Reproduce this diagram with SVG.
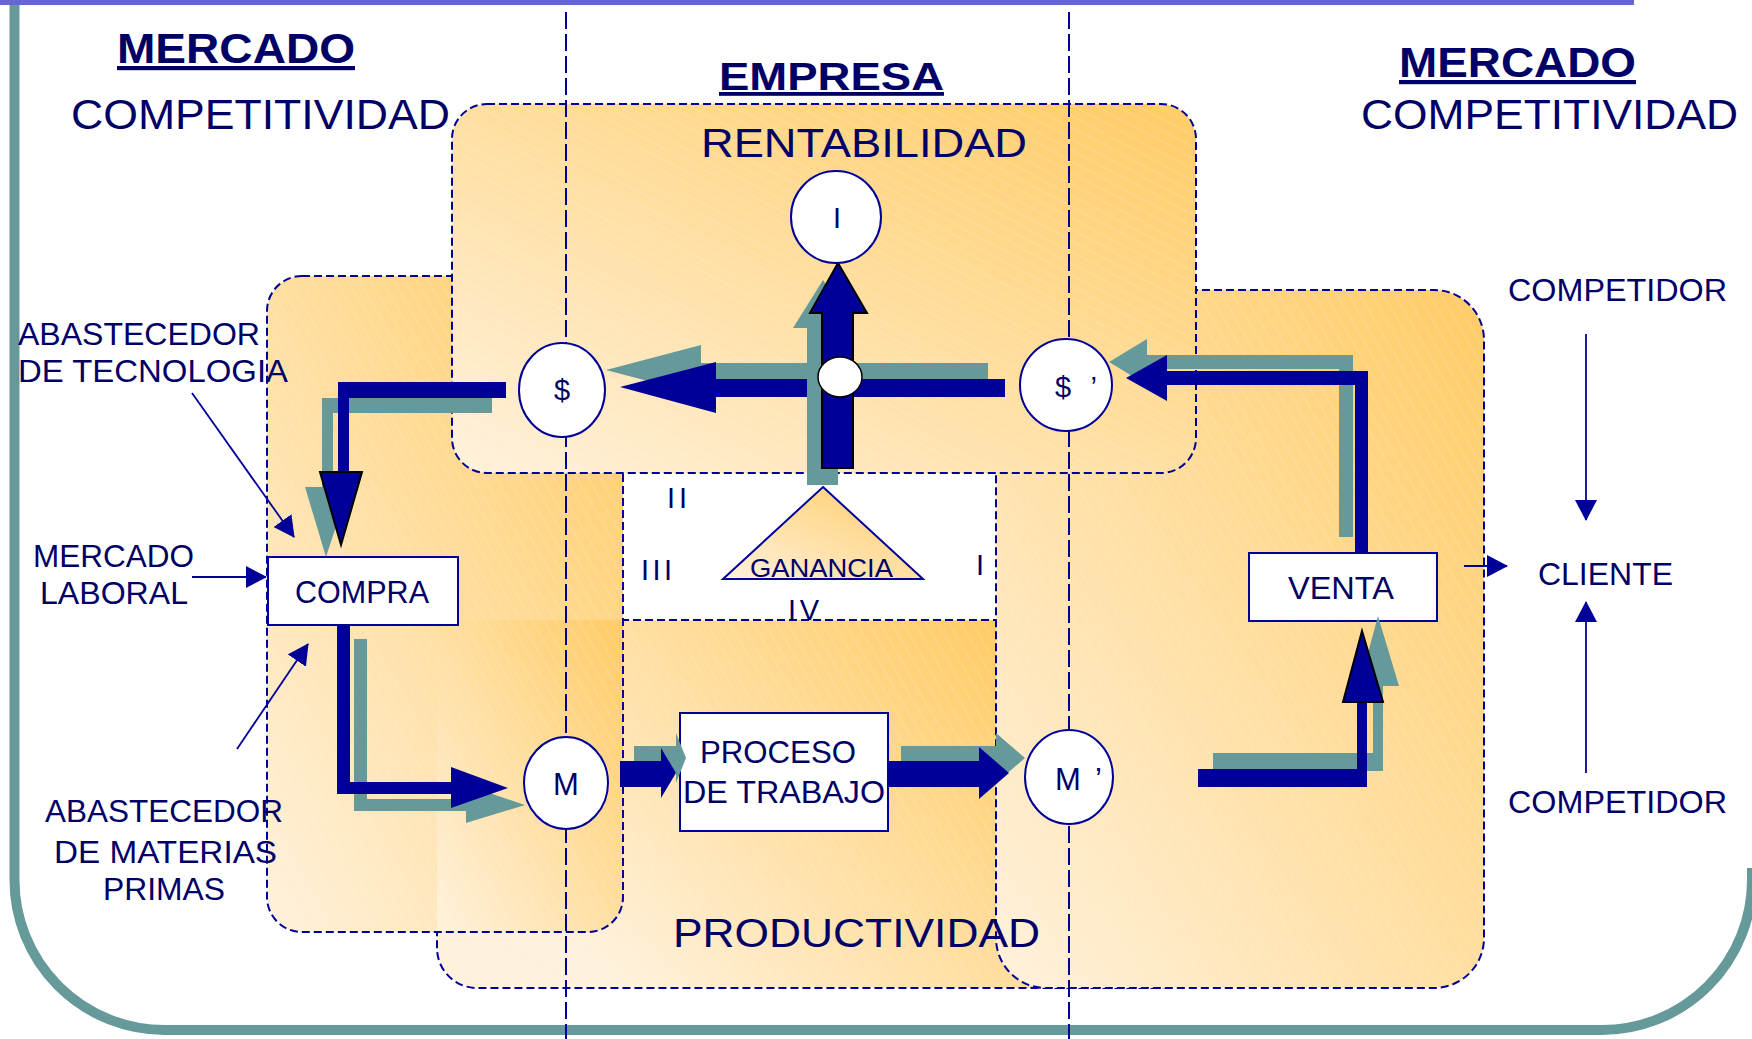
<svg xmlns="http://www.w3.org/2000/svg" width="1752" height="1039" viewBox="0 0 1752 1039">
<defs>
<style>
.txt{font-family:"Liberation Sans",Arial,sans-serif;fill:#000066;}
.b{font-weight:bold;text-decoration:underline;}
.rb{fill:none;stroke:#000099;stroke-width:2;stroke-dasharray:8 4;}
.guide{fill:none;stroke:#000099;stroke-width:2;stroke-dasharray:17 5;}
.node{fill:#fff;stroke:#000099;stroke-width:2;}
.blue{fill:#000099;}
.teal{fill:#669999;}
.outl{fill:#000099;stroke:#000;stroke-width:2;stroke-linejoin:miter;}
.thin{fill:none;stroke:#000099;stroke-width:1.8;marker-end:url(#ah);}
</style>
<linearGradient id="g" x1="0" y1="1" x2="1" y2="0">
<stop offset="0" stop-color="#FFF1DC"/>
<stop offset="1" stop-color="#FFCC66"/>
</linearGradient>
<linearGradient id="gC" gradientUnits="userSpaceOnUse" x1="623" y1="988" x2="996" y2="620">
<stop offset="0" stop-color="#FFF1DC"/>
<stop offset="1" stop-color="#FFCC66"/>
</linearGradient>
<clipPath id="clipB"><rect x="267" y="276" width="356" height="656" rx="35"/></clipPath>
<pattern id="h1" width="10" height="10" patternUnits="userSpaceOnUse" patternTransform="rotate(-30)">
<line x1="0" y1="0" x2="0" y2="10" stroke="#fff" stroke-width="1" stroke-opacity="0.3"/>
</pattern>
<pattern id="h2" width="10" height="10" patternUnits="userSpaceOnUse" patternTransform="rotate(-62)">
<line x1="0" y1="0" x2="0" y2="10" stroke="#fff" stroke-width="1" stroke-opacity="0.3"/>
</pattern>
<marker id="ah" markerUnits="userSpaceOnUse" markerWidth="21" markerHeight="22" refX="20" refY="11" orient="auto">
<path d="M0,0 L21,11 L0,22 z" fill="#000099"/>
</marker>
</defs>

<rect width="1752" height="1039" fill="#fff"/>

<!-- outer frame -->
<path d="M14.5,5 V880 A150,150 0 0 0 164.5,1030 H1602 A150,150 0 0 0 1752,880 V868" fill="none" stroke="#669999" stroke-width="10"/>
<rect x="0" y="0" width="1634" height="5" fill="#6666CC"/>

<!-- regions -->
<g id="region-productividad">
<rect x="437" y="620" width="760" height="368" rx="40" fill="url(#gC)"/>
<rect x="437" y="620" width="760" height="368" rx="40" fill="url(#h1)"/>
<rect x="437" y="620" width="760" height="368" rx="40" class="rb"/>
</g>
<g id="region-venta">
<rect x="996" y="290" width="488" height="698" rx="50" fill="url(#g)"/>
<rect x="996" y="290" width="488" height="698" rx="50" fill="url(#h1)"/>
<rect x="996" y="290" width="488" height="698" rx="50" class="rb"/>
</g>
<g id="region-compra">
<rect x="267" y="276" width="356" height="656" rx="35" fill="url(#g)"/>
<rect x="437" y="620" width="186" height="312" fill="url(#g)" clip-path="url(#clipB)"/>
<rect x="267" y="276" width="356" height="656" rx="35" fill="url(#h1)"/>
<rect x="267" y="276" width="356" height="656" rx="35" class="rb"/>
</g>
<g id="region-rentabilidad">
<rect x="452" y="104" width="744" height="369" rx="35" fill="url(#g)"/>
<rect x="452" y="104" width="744" height="369" rx="35" fill="url(#h2)"/>
<rect x="452" y="104" width="744" height="369" rx="35" class="rb"/>
</g>

<!-- guide lines -->
<g id="guides">
<line x1="566" y1="12" x2="566" y2="1039" class="guide"/>
<line x1="1069" y1="12" x2="1069" y2="1039" class="guide"/>
</g>

<!-- boxes -->
<g id="compra"><rect x="268" y="557" width="190" height="68" class="node"/>
<text class="txt" x="295" y="603" font-size="31" textLength="134" lengthAdjust="spacingAndGlyphs">COMPRA</text></g>
<g id="venta"><rect x="1249" y="553" width="188" height="68" class="node"/>
<text class="txt" x="1288" y="599" font-size="31" textLength="106" lengthAdjust="spacingAndGlyphs">VENTA</text></g>
<g id="proceso"><rect x="680" y="713" width="208" height="118" class="node"/>
<text class="txt" x="700" y="763" font-size="31" textLength="156" lengthAdjust="spacingAndGlyphs">PROCESO</text>
<text class="txt" x="683" y="803" font-size="31" textLength="202" lengthAdjust="spacingAndGlyphs">DE TRABAJO</text></g>
<g id="ganancia"><polygon points="823,487 923,579 723,579" fill="url(#g)" stroke="#000099" stroke-width="2"/>
<text class="txt" x="750" y="577" font-size="25" textLength="143" lengthAdjust="spacingAndGlyphs">GANANCIA</text></g>

<!-- connectors -->
<g id="connectors">
<line x1="192" y1="393" x2="294" y2="537" class="thin"/>
<line x1="192" y1="577" x2="266" y2="577" class="thin"/>
<line x1="237" y1="749" x2="308" y2="644" class="thin"/>
<line x1="1464" y1="566" x2="1507" y2="566" class="thin"/>
<line x1="1586" y1="334" x2="1586" y2="520" class="thin"/>
<line x1="1586" y1="773" x2="1586" y2="602" class="thin"/>

<!-- $ to COMPRA -->
<polygon class="teal" points="492,398 322,398 322,487 305,487 326,557 349,487 333,487 333,413 492,413"/>
<polygon class="blue" points="506,382 338,382 338,472 349,472 349,398 506,398"/>
<polygon class="outl" points="320,472 362,472 341,545"/>
<!-- COMPRA to M -->
<polygon class="teal" points="354,639 367,639 367,799 466,799 466,785 525,805 466,823 466,811 354,811"/>
<polygon class="blue" points="337,624 350,624 350,782 451,782 451,767 508,788 451,808 451,794 337,794"/>
<!-- M to PROCESO -->
<polygon class="teal" points="634,746 676,746 676,733 686,758 676,783 676,772 634,772"/>
<polygon class="blue" points="620,761 661,761 661,748 676,773 661,798 661,787 620,787"/>
<!-- PROCESO to M' -->
<polygon class="teal" points="901,746 996,746 996,733 1025,758 996,783 996,772 901,772"/>
<polygon class="blue" points="889,761 979,761 979,747 1009,773 979,799 979,787 889,787"/>
<!-- to VENTA -->
<polygon class="teal" points="1213,753 1373,753 1373,686 1359,686 1378,616 1399,686 1383,686 1383,771 1213,771"/>
<polygon class="blue" points="1198,769 1357,769 1357,702 1367,702 1367,787 1198,787"/>
<polygon class="outl" points="1343,702 1383,702 1362,631"/>
<!-- VENTA to $' -->
<polygon class="teal" points="1339,537 1339,369 1147,369 1147,385 1109,362 1147,339 1147,355 1353,355 1353,537"/>
<polygon class="blue" points="1355,553 1355,385 1167,385 1167,401 1126,378 1167,355 1167,371 1368,371 1368,553"/>
<!-- $' to $ -->
<polygon class="teal" points="988,363 701,363 701,345 606,370 701,395 701,381 988,381"/>
<polygon class="blue" points="1005,379 716,379 716,362 620,387 716,413 716,397 1005,397"/>
<!-- GANANCIA to I -->
<polygon class="teal" points="807,485 807,328 793,328 823,280 853,328 838,328 838,485"/>
<polygon class="outl" points="822,468 822,313 810,313 838,263 867,313 853,313 853,468"/>
<ellipse cx="840" cy="377" rx="22" ry="20" fill="#fff" stroke="#000" stroke-width="1.5"/>
</g>

<!-- circles -->
<g id="node-I"><ellipse cx="836" cy="217" rx="45" ry="46" class="node"/>
<text class="txt" x="837" y="228" font-size="29" text-anchor="middle">I</text></g>
<g id="node-dollar"><ellipse cx="562" cy="390" rx="43" ry="47" class="node"/>
<text class="txt" x="562" y="400" font-size="29" text-anchor="middle">$</text></g>
<g id="node-dollar2"><ellipse cx="1066" cy="385" rx="46" ry="46" class="node"/>
<text class="txt" x="1055" y="397" font-size="29" textLength="42" lengthAdjust="spacing">$ ’</text></g>
<g id="node-M"><ellipse cx="566" cy="783" rx="42" ry="46" class="node"/>
<text class="txt" x="566" y="795" font-size="31" text-anchor="middle">M</text></g>
<g id="node-M2"><ellipse cx="1069" cy="777" rx="44" ry="47" class="node"/>
<text class="txt" x="1055" y="790" font-size="31" textLength="47" lengthAdjust="spacing">M ’</text></g>

<!-- labels -->
<g id="labels">
<text class="txt b" x="117" y="63" font-size="42" textLength="238" lengthAdjust="spacingAndGlyphs">MERCADO</text>
<text class="txt" x="71" y="129" font-size="42" textLength="379" lengthAdjust="spacingAndGlyphs">COMPETITIVIDAD</text>
<text class="txt b" x="719" y="90" font-size="38" textLength="225" lengthAdjust="spacingAndGlyphs">EMPRESA</text>
<text class="txt" x="701" y="157" font-size="40" textLength="326" lengthAdjust="spacingAndGlyphs">RENTABILIDAD</text>
<text class="txt b" x="1399" y="77" font-size="42" textLength="237" lengthAdjust="spacingAndGlyphs">MERCADO</text>
<text class="txt" x="1361" y="129" font-size="42" textLength="377" lengthAdjust="spacingAndGlyphs">COMPETITIVIDAD</text>
<text class="txt" x="1508" y="301" font-size="31" textLength="219" lengthAdjust="spacingAndGlyphs">COMPETIDOR</text>
<text class="txt" x="1538" y="585" font-size="32" textLength="135" lengthAdjust="spacingAndGlyphs">CLIENTE</text>
<text class="txt" x="1508" y="813" font-size="31" textLength="219" lengthAdjust="spacingAndGlyphs">COMPETIDOR</text>
<text class="txt" x="18" y="345" font-size="31" textLength="242" lengthAdjust="spacingAndGlyphs">ABASTECEDOR</text>
<text class="txt" x="18" y="382" font-size="31" textLength="270" lengthAdjust="spacingAndGlyphs">DE TECNOLOGIA</text>
<text class="txt" x="33" y="567" font-size="31" textLength="161" lengthAdjust="spacingAndGlyphs">MERCADO</text>
<text class="txt" x="40" y="604" font-size="31" textLength="148" lengthAdjust="spacingAndGlyphs">LABORAL</text>
<text class="txt" x="45" y="822" font-size="31" textLength="238" lengthAdjust="spacingAndGlyphs">ABASTECEDOR</text>
<text class="txt" x="54" y="863" font-size="31" textLength="223" lengthAdjust="spacingAndGlyphs">DE MATERIAS</text>
<text class="txt" x="103" y="900" font-size="31" textLength="122" lengthAdjust="spacingAndGlyphs">PRIMAS</text>
<text class="txt" x="667" y="508" font-size="29" textLength="20" lengthAdjust="spacing">II</text>
<text class="txt" x="641" y="580" font-size="29" textLength="31" lengthAdjust="spacing">III</text>
<text class="txt" x="976" y="575" font-size="29">I</text>
<text class="txt" x="788" y="620" font-size="29" textLength="31" lengthAdjust="spacing">IV</text>
<text class="txt" x="673" y="947" font-size="40" textLength="367" lengthAdjust="spacingAndGlyphs">PRODUCTIVIDAD</text>
</g>
</svg>
